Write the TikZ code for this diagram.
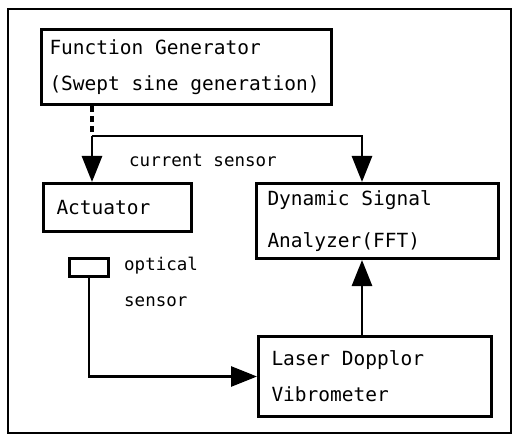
\documentclass[tikz,border=0pt]{standalone}
\usepackage{fontspec}
\setmonofont{DejaVu Sans Mono}
\usetikzlibrary{arrows.meta}
\tikzstyle{unit_box}=[rectangle,
                      draw=black,
                      line width=3pt,
                      align=left,
                      inner xsep=8pt,
                      execute at begin node={\spaceskip=0pt\relax},
                      font=\ttfamily\fontsize{19.5}{36}\selectfont, ]
\tikzstyle{signal_line}=[line width=2.8pt,
                         -{Triangle[length=26pt,width=20pt]}, ]
\tikzstyle{tag_text}=[anchor=west,
                      inner sep=0pt,
                      font=\ttfamily\fontsize{17.5}{34}\selectfont, ]

\begin{document}
\begin{tikzpicture}[x=1pt, y=-1pt]
  \useasboundingbox (0,0) rectangle (514,441);
  % Frame
  % -------------------------------------------------------------
  \draw[line width=2.2pt] (8,9) rectangle (511,433);

  % Instruments
  % -------------------------------------------------------------
  \node at (186.5,67.5) (fgen) [unit_box, text width=274pt, minimum height=75pt] {Function Generator\\(Swept sine generation)};
  \node at (117.5,207.5) (actuator) [unit_box, inner xsep=13pt, text width=122pt, minimum height=48pt] {Actuator};
  \node at (377.5,221) (dsa) [unit_box, inner xsep=11pt, text width=220pt, minimum height=75pt,
                              font=\ttfamily\fontsize{19.5}{42}\selectfont] {Dynamic Signal\\Analyzer(FFT)};
  \node at (375,376.5) (ldv) [unit_box, inner xsep=13pt, text width=207pt, minimum height=80pt] {Laser Dopplor\\Vibrometer};
  \node at (89,267.5) (optsensor) [rectangle, draw=black, line width=3pt, minimum width=39pt, minimum height=18pt] {};

  % Labels
  % -------------------------------------------------------------
  \node at (129,160) (cursensor) [tag_text] {current sensor};
  \node at (124,266) (optlabel) [tag_text] {optical};
  \node at (124,302) (senslabel) [tag_text] {sensor};

  % Signal paths
  % -------------------------------------------------------------
  \coordinate (split) at (92,136);
  \coordinate (fftin) at (362,136);
  \draw[line width=3.5pt, dash pattern=on 6pt off 4pt] (fgen.south -| split) -- (split);
  \draw[signal_line] (split) -- (split |- actuator.north);
  \draw[signal_line] (split) -- (fftin) -- (fftin |- dsa.north);
  \draw[signal_line] (fftin |- ldv.north) -- (fftin |- dsa.south);
  \draw[signal_line] (optsensor.south) |- (ldv.west);
\end{tikzpicture}
\end{document}
